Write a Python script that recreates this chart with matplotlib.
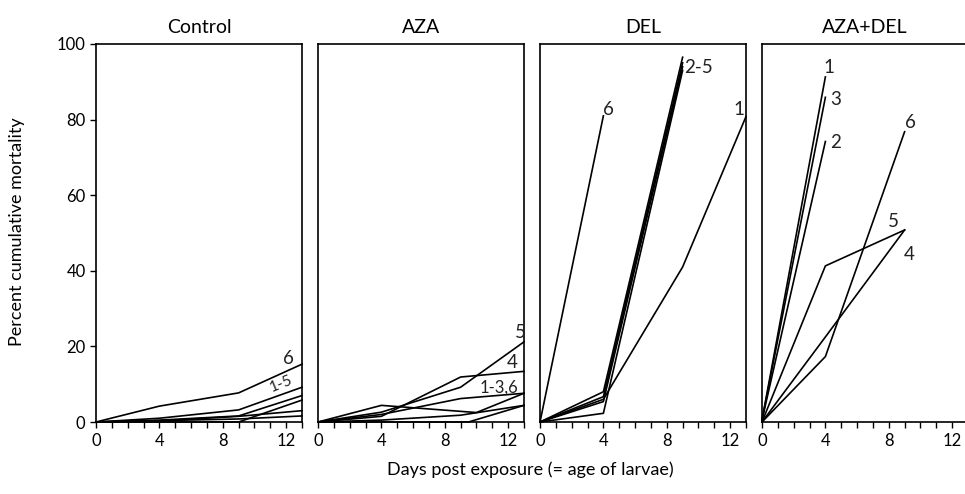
import numpy as np
import matplotlib
matplotlib.use('Agg')
import matplotlib.pyplot as plt

plt.rcParams['font.family'] = ['Lato', 'DejaVu Sans']

panels = ['Control', 'AZA', 'DEL', 'AZA+DEL']

# (days, mortality %) for each replicate line, per treatment
control = [
    ([0, 4, 9, 13], [0, 4.2, 7.7, 15.3]),
    ([0, 4, 9, 13], [0, 1.0, 3.2, 9.2]),
    ([0, 4, 9, 13], [0, 0.5, 1.6, 7.0]),
    ([0, 9, 13], [0, 0, 5.8]),
    ([0, 4, 9, 13], [0, 0.3, 1.5, 3.0]),
    ([0, 9, 13], [0, 0.8, 1.6]),
]
aza = [
    ([0, 4, 9, 13], [0, 2.6, 9.2, 21.2]),
    ([0, 4, 9, 13], [0, 1.5, 11.9, 13.4]),
    ([0, 4, 10, 13], [0, 4.4, 2.5, 7.6]),
    ([0, 4, 9, 13], [0, 2.0, 6.2, 7.6]),
    ([0, 4, 9, 13], [0, 0.5, 1.8, 4.4]),
    ([0, 9.5, 13], [0, 0, 4.4]),
]
dele = [
    ([0, 4, 9, 13], [0, 6.0, 41.0, 80.8]),
    ([0, 4, 9], [0, 8.0, 96.5]),
    ([0, 4, 9], [0, 6.7, 95.0]),
    ([0, 4, 9], [0, 5.4, 94.0]),
    ([0, 4, 9], [0, 2.3, 93.0]),
    ([0, 4], [0, 81.0]),
]
azadel = [
    ([0, 4], [0.5, 91.3]),
    ([0, 4], [0.5, 74.2]),
    ([0, 4], [0.5, 85.9]),
    ([0, 4, 9], [0, 22.5, 50.8]),
    ([0, 4, 9], [0, 41.3, 50.8]),
    ([0, 4, 9], [0, 17.3, 76.8]),
]
series = [control, aza, dele, azadel]

# line labels: (x, y baseline, text, fontsize, rotation)
labels = [
    [(11.8, 15.3, '6', 13.5, 0), (11.1, 7.9, '1-5', 11, 22)],
    [(12.4, 22.2, '5', 13.5, 0), (11.9, 14.3, '4', 13.5, 0), (10.2, 7.9, '1-3,6', 12, 0)],
    [(4.0, 81.2, '6', 13.5, 0), (9.1, 92.3, '2-5', 13.5, 0), (12.2, 81.2, '1', 13.5, 0)],
    [(3.85, 92.3, '1', 13.5, 0), (4.3, 83.9, '3', 13.5, 0), (4.3, 72.5, '2', 13.5, 0),
     (9.0, 77.8, '6', 13.5, 0), (7.95, 51.6, '5', 13.5, 0), (8.95, 42.9, '4', 13.5, 0)],
]

fig = plt.figure(figsize=(9.65, 4.94), dpi=100)
W, H = 965.0, 494.0
lefts = [96, 318, 540, 762]
for i, name in enumerate(panels):
    ax = fig.add_axes([lefts[i] / W, (H - 422) / H, 206 / W, 378 / H])
    for xs, ys in series[i]:
        ax.plot(xs, ys, color='black', linewidth=1.2, clip_on=False)
    for x, y, t, fs, rot in labels[i]:
        ax.text(x, y, t, fontsize=fs, rotation=rot, ha='left', va='baseline',
                rotation_mode='anchor', color='#222222')
    ax.set_xlim(0, 13)
    ax.set_ylim(0, 100)
    ax.set_xticks([0, 4, 8, 12])
    ax.set_xticks(np.arange(0, 14, 1), minor=True)
    ax.tick_params(axis='x', which='both', direction='out', length=4, width=1,
                   labelsize=12, pad=4)
    for s in ax.spines.values():
        s.set_linewidth(1.2)
    if i == 0:
        ax.set_yticks([0, 20, 40, 60, 80, 100])
        ax.tick_params(axis='y', direction='out', length=4, width=1, labelsize=12)
    else:
        ax.set_yticks([])
    ax.set_title(name, fontsize=14, pad=8)

fig.text(0.55, 0.05, 'Days post exposure (= age of larvae)', ha='center',
         va='center', fontsize=13)
fig.text(0.018, 0.53, 'Percent cumulative mortality', ha='center', va='center',
         rotation=90, fontsize=13)

fig.savefig('out.png', dpi=100)
